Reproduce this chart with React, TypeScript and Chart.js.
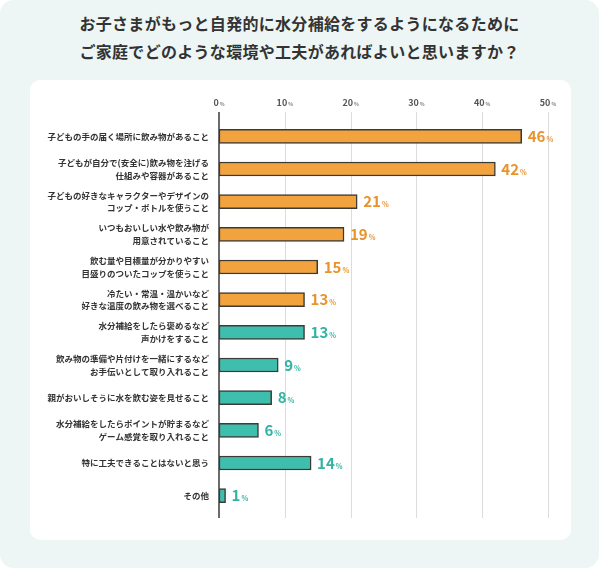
import { useEffect, useRef } from "react"
import { Chart, registerables } from "chart.js"

Chart.register(...registerables)

const categoryLabels: string[][] = [
  ["子どもの手の届く場所に飲み物があること"],
  ["子どもが自分で(安全に)飲み物を注げる", "仕組みや容器があること"],
  ["子どもの好きなキャラクターやデザインの", "コップ・ボトルを使うこと"],
  ["いつもおいしい水や飲み物が", "用意されていること"],
  ["飲む量や目標量が分かりやすい", "目盛りのついたコップを使うこと"],
  ["冷たい・常温・温かいなど", "好きな温度の飲み物を選べること"],
  ["水分補給をしたら褒めるなど", "声かけをすること"],
  ["飲み物の準備や片付けを一緒にするなど", "お手伝いとして取り入れること"],
  ["親がおいしそうに水を飲む姿を見せること"],
  ["水分補給をしたらポイントが貯まるなど", "ゲーム感覚を取り入れること"],
  ["特に工夫できることはないと思う"],
  ["その他"],
]

const values = [46, 42, 21, 19, 15, 13, 13, 9, 8, 6, 14, 1]

// "env" = environment / tools (orange), "act" = actions (teal)
const groups = ["env", "env", "env", "env", "env", "env", "act", "act", "act", "act", "act", "act"]

const xTicks = [0, 10, 20, 30, 40, 50]

const FILL: Record<string, string> = { env: "#f2a33d", act: "#3ebfad" }
const TEXT: Record<string, string> = { env: "#e8942d", act: "#33b3a2" }

const FONT = "'Noto Sans CJK JP', 'Noto Sans', sans-serif"

const decorPlugin = {
  id: "decor",
  beforeDatasetsDraw(chart: any) {
    const { ctx, chartArea, scales } = chart
    const x = scales.x
    const top = chartArea.top - 8
    const bottom = chartArea.bottom + 6
    ctx.save()

    // grid lines
    ctx.strokeStyle = "#dcdcdc"
    ctx.lineWidth = 1
    xTicks.forEach((v) => {
      if (v === 0) return
      const px = Math.round(x.getPixelForValue(v)) + 0.5
      ctx.beginPath()
      ctx.moveTo(px, top)
      ctx.lineTo(px, bottom)
      ctx.stroke()
    })

    // tick labels with small %
    xTicks.forEach((v) => {
      const px = x.getPixelForValue(v)
      const num = String(v)
      ctx.font = `bold 9px ${FONT}`
      const wn = ctx.measureText(num).width
      ctx.font = `bold 5px ${FONT}`
      const wp = ctx.measureText("%").width
      const start = px - (wn + wp + 1) / 2
      const base = chartArea.top - 14
      ctx.textBaseline = "alphabetic"
      ctx.textAlign = "left"
      ctx.fillStyle = "#555"
      ctx.font = `bold 9px ${FONT}`
      ctx.fillText(num, start, base)
      ctx.fillStyle = "#888"
      ctx.font = `bold 5px ${FONT}`
      ctx.fillText("%", start + wn + 1, base)
    })
    ctx.restore()
  },
  afterDatasetsDraw(chart: any) {
    const { ctx, chartArea, scales } = chart
    const x = scales.x
    ctx.save()

    // zero axis line
    const zx = x.getPixelForValue(0)
    ctx.strokeStyle = "#3a3a3a"
    ctx.lineWidth = 1.5
    ctx.beginPath()
    ctx.moveTo(zx, chartArea.top - 8)
    ctx.lineTo(zx, chartArea.bottom + 6)
    ctx.stroke()

    // value labels
    const meta = chart.getDatasetMeta(0)
    meta.data.forEach((bar: any, i: number) => {
      const num = String(values[i])
      const color = TEXT[groups[i]]
      const base = bar.y + 5.5
      const sx = bar.x + 6
      ctx.textBaseline = "alphabetic"
      ctx.textAlign = "left"
      ctx.fillStyle = color
      ctx.font = `bold 15px ${FONT}`
      ctx.fillText(num, sx, base)
      const wn = ctx.measureText(num).width
      ctx.font = `bold 7px ${FONT}`
      ctx.fillText("%", sx + wn + 1, base)
    })
    ctx.restore()
  },
}

function BarChart() {
  const chartRef = useRef<HTMLCanvasElement | null>(null)
  const chartInstance = useRef<Chart | null>(null)

  useEffect(() => {
    if (!chartRef.current) return
    if (chartInstance.current) chartInstance.current.destroy()

    const ctx = chartRef.current.getContext("2d")
    if (!ctx) return

    chartInstance.current = new Chart(ctx, {
      type: "bar",
      data: {
        labels: categoryLabels,
        datasets: [
          {
            data: values,
            backgroundColor: groups.map((g) => FILL[g]),
            borderColor: "#3d3a36",
            borderWidth: 1.5,
            borderSkipped: false,
            barThickness: 14,
          },
        ],
      },
      options: {
        indexAxis: "y",
        animation: false,
        responsive: true,
        maintainAspectRatio: false,
        layout: { padding: { left: 0, right: 23, top: 40, bottom: 28 } },
        plugins: {
          legend: { display: false },
          tooltip: { enabled: false },
        },
        scales: {
          x: {
            min: 0,
            max: 50,
            display: false,
          },
          y: {
            grid: { display: false },
            border: { display: false },
            afterFit: (scale: any) => {
              scale.width = 189
            },
            ticks: {
              padding: 2,
              color: "#333",
              font: { family: FONT, size: 8.5, weight: "bold", lineHeight: 1.5 },
            },
          },
        },
      },
      plugins: [decorPlugin],
    })

    return () => {
      if (chartInstance.current) {
        chartInstance.current.destroy()
        chartInstance.current = null
      }
    }
  }, [])

  return (
    <div style={{ position: "relative", width: 541, height: 460 }}>
      <canvas ref={chartRef} />
    </div>
  )
}

export default function App() {
  return (
    <div
      style={{
        position: "relative",
        width: 599,
        height: 568,
        background: "#edf6f4",
        borderRadius: 14,
        overflow: "hidden",
        fontFamily: FONT,
      }}
    >
      <style>{`body{margin:0;background:#fff}`}</style>
      <div
        style={{
          position: "absolute",
          top: 9,
          left: 0,
          width: 599,
          textAlign: "center",
          fontSize: 16,
          fontWeight: "bold",
          lineHeight: "28px",
          color: "#333",
          letterSpacing: 0.3,
        }}
      >
        お子さまがもっと自発的に水分補給をするようになるために
        <br />
        ご家庭でどのような環境や工夫があればよいと思いますか？
      </div>
      <div
        style={{
          position: "absolute",
          left: 30,
          top: 80,
          width: 541,
          height: 460,
          background: "#fff",
          borderRadius: 10,
        }}
      >
        <BarChart />
      </div>
    </div>
  )
}
